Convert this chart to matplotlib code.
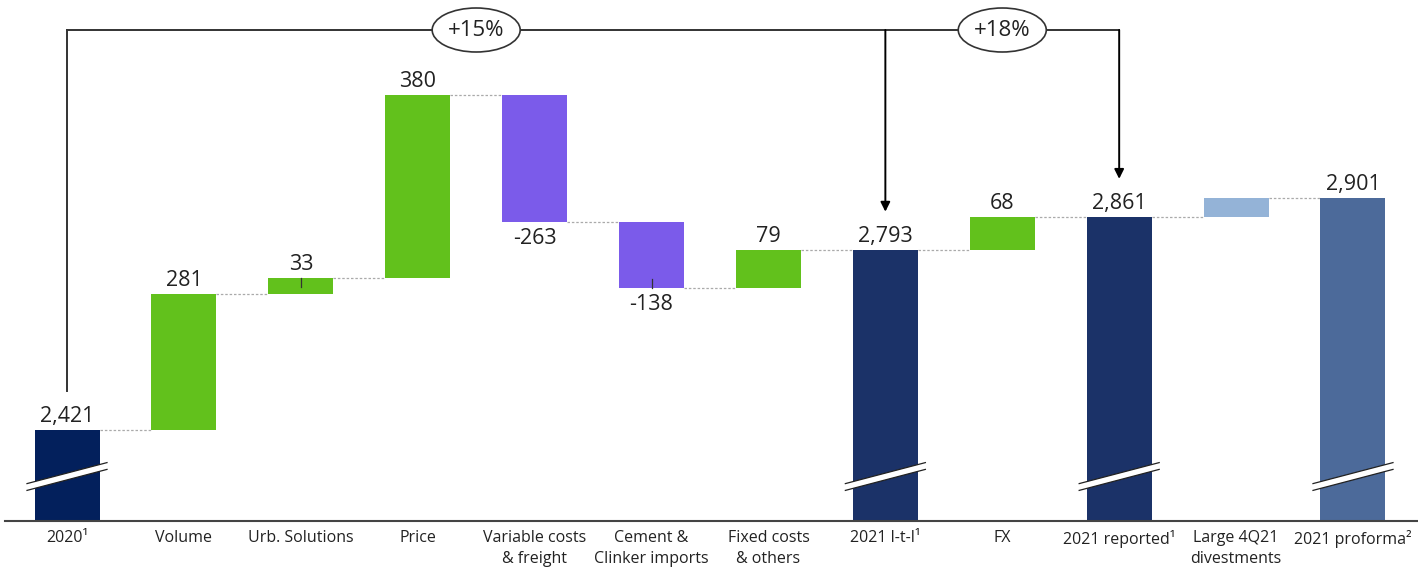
import matplotlib
matplotlib.use("Agg")
import matplotlib.pyplot as plt
from matplotlib.patches import Ellipse, Polygon
import numpy as np

plt.rcParams['font.family'] = ['Open Sans', 'DejaVu Sans']

# ---------------- data ----------------
categories = ["2020\u00b9", "Volume", "Urb. Solutions", "Price", "Variable costs\n& freight",
              "Cement &\nClinker imports", "Fixed costs\n& others", "2021 l-t-l\u00b9", "FX",
              "2021 reported\u00b9", "Large 4Q21\ndivestments", "2021 proforma\u00b2"]
values = [2421, 281, 33, 380, -263, -138, 79, 2793, 68, 2861, 40, 2901]
kinds = ["total", "delta", "delta", "delta", "delta", "delta", "delta", "total", "delta",
         "total", "delta", "total"]
value_labels = ["2,421", "281", "33", "380", "-263", "-138", "79", "2,793", "68", "2,861", "", "2,901"]
growth_labels = ["+15%", "+18%"]

colors = ["#03205C", "#62C11C", "#62C11C", "#62C11C", "#7B5BEA", "#7B5BEA", "#62C11C",
          "#1B3268", "#62C11C", "#1B3268", "#94B3D7", "#4C6A9A"]

# ---------------- figure ----------------
W, H = 1418, 569
fig = plt.figure(figsize=(W / 100, H / 100), dpi=100)
base_px = 521
ax = fig.add_axes([0, (H - base_px) / H, 1, base_px / H])
px_per_unit = 0.483
ymin = 2232.6
ymax = ymin + base_px / px_per_unit
spacing = 116.9
xmin = -67 / spacing
xmax = 11 + (W - 1353) / spacing
ax.set_xlim(xmin, xmax)
ax.set_ylim(ymin, ymax)
ax.axis("off")

x = np.arange(len(categories))
bw = 65 / spacing

bottoms, tops = [], []
running = 0
for v, k in zip(values, kinds):
    if k == "total":
        b, t = ymin, v
        running = v
    else:
        b, t = running, running + v
        running += v
    bottoms.append(b)
    tops.append(t)

for i in range(len(x)):
    lo, hi = min(bottoms[i], tops[i]), max(bottoms[i], tops[i])
    ax.bar(x[i], hi - lo, bottom=lo, width=bw, color=colors[i], zorder=3, linewidth=0)

# connectors
for i in range(len(x) - 1):
    lvl = tops[i]
    ax.plot([x[i] + bw / 2, x[i + 1] - bw / 2], [lvl, lvl], color="#AAAAAA",
            linestyle=(0, (2, 1.5)), linewidth=0.9, zorder=2)

# baseline
ax.plot([xmin + 5 / spacing, xmax], [ymin, ymin], color="#444444", linewidth=1.5,
        zorder=4, clip_on=False)

# break marks on totals
for i in range(len(x)):
    if kinds[i] != "total":
        continue
    hx = 40 / spacing
    yl = ymin + (base_px - 487) / px_per_unit
    yr = ymin + (base_px - 466) / px_per_unit
    th = 3.4 / px_per_unit
    poly = Polygon([[x[i] - hx, yl - th], [x[i] + hx, yr - th], [x[i] + hx, yr + th],
                    [x[i] - hx, yl + th]], closed=True, facecolor="white",
                   edgecolor="none", zorder=5)
    ax.add_patch(poly)
    ax.plot([x[i] - hx, x[i] + hx], [yl - th, yr - th], color="#222222", lw=0.9, zorder=6)
    ax.plot([x[i] - hx, x[i] + hx], [yl + th, yr + th], color="#222222", lw=0.9, zorder=6)

# value labels
lab_pad = 6 / px_per_unit
for i in range(len(x)):
    if not value_labels[i]:
        continue
    if values[i] < 0 and kinds[i] == "delta":
        y = min(bottoms[i], tops[i]) - lab_pad
        va = "top"
    else:
        y = max(bottoms[i], tops[i]) + lab_pad * 0.5
        va = "bottom"
    ax.text(x[i], y, value_labels[i], ha="center", va=va, fontsize=15.5, color="#222222",
            zorder=7)

# small leader ticks inside narrow bars
for i in (2, 5):
    top = max(bottoms[i], tops[i])
    bot = min(bottoms[i], tops[i])
    if values[i] > 0:
        ax.plot([x[i], x[i]], [top, top - 9 / px_per_unit], color="#333333", lw=0.9, zorder=6)
    else:
        ax.plot([x[i], x[i]], [bot, bot + 9 / px_per_unit], color="#333333", lw=0.9, zorder=6)

# category labels
for i, c in enumerate(categories):
    ax.text(x[i], ymin - 9 / px_per_unit, c, ha="center", va="top", fontsize=11.5,
            color="#222222", linespacing=1.45, clip_on=False)

# brackets
line_y = ymin + (base_px - 30) / px_per_unit
arrow_pad = 80
i0, i1, i2 = 0, 7, 9
ax.plot([x[i0], x[i0]], [values[i0] + arrow_pad, line_y], color="#333333", lw=1.4, zorder=4)
ax.plot([x[i0], x[i2]], [line_y, line_y], color="#333333", lw=1.4, zorder=4)
for j in (i1, i2):
    ax.annotate("", xy=(x[j], values[j] + arrow_pad), xytext=(x[j], line_y),
                arrowprops=dict(arrowstyle="-|>", color="black", lw=1.4,
                                mutation_scale=14, shrinkA=0, shrinkB=0), zorder=4)

ell_w = 88 / spacing
ell_h = 44 / px_per_unit
for cx, lab in zip([(x[3] + x[4]) / 2, x[8]], growth_labels):
    e = Ellipse((cx, line_y), ell_w, ell_h, facecolor="white", edgecolor="#333333",
                lw=1.2, zorder=8)
    ax.add_patch(e)
    ax.text(cx, line_y, lab, ha="center", va="center", fontsize=16, color="#222222",
            zorder=9)

fig.savefig("out.png", dpi=100)
